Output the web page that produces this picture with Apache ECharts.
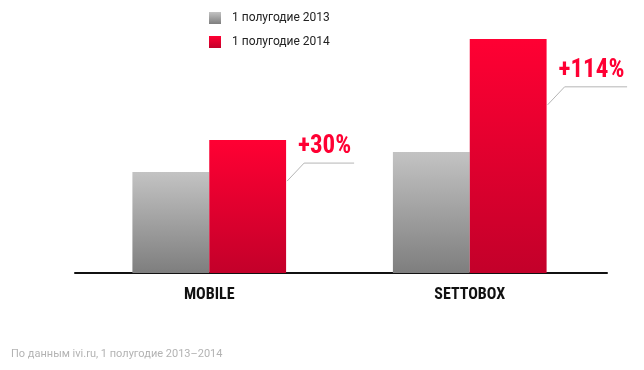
<!DOCTYPE html>
<html>
<head>
<meta charset="utf-8">
<script src="https://cdn.jsdelivr.net/npm/echarts@6/dist/echarts.min.js"></script>
<style>
html,body{margin:0;padding:0;background:#fff;}
#chart{width:644px;height:370px;}
</style>
</head>
<body>
<div id="chart"></div>
<script>
const categories = ['MOBILE', 'SETTOBOX'];
const seriesNames = ['1 полугодие 2013', '1 полугодие 2014'];
const values2013 = [101, 121];
const values2014 = [133, 234];
const growthLabels = ['+30%', '+114%'];
const footnote = 'По данным ivi.ru, 1 полугодие 2013–2014';

const condensed = '"Roboto Condensed", "Liberation Sans Narrow", "DejaVu Sans Condensed", sans-serif';
const catGap = 0.41;

const grayGrad = new echarts.graphic.LinearGradient(0, 0, 0, 1, [
  {offset: 0, color: '#c3c3c3'}, {offset: 1, color: '#7e7e7e'}
]);
const redGrad = new echarts.graphic.LinearGradient(0, 0, 0, 1, [
  {offset: 0, color: '#ff0033'}, {offset: 1, color: '#c3002a'}
]);

const chart = echarts.init(document.getElementById('chart'));
chart.setOption({
  animation: false,
  backgroundColor: '#ffffff',
  title: {
    text: footnote,
    left: 11, top: 349, padding: 0,
    textStyle: {fontFamily: 'Roboto', fontSize: 11, fontWeight: 'normal', color: '#b3b3b3'}
  },
  legend: {
    orient: 'vertical',
    left: 209, top: 12, padding: 0,
    itemWidth: 12, itemHeight: 12, itemGap: 12,
    icon: 'rect',
    data: seriesNames,
    textStyle: {fontFamily: 'Roboto', fontSize: 12, color: '#222', padding: [0, 0, 0, 6]}
  },
  grid: [
    {left: 79, right: 44, top: 23, bottom: 97},
    {left: 75, right: 37, top: 23, bottom: 97}
  ],
  xAxis: [
    {
      type: 'category', gridIndex: 0,
      data: categories,
      axisLine: {show: false},
      axisTick: {show: false},
      axisLabel: {
        margin: 14,
        fontFamily: condensed, fontWeight: 'bold', fontSize: 16, color: '#111'
      }
    },
    {
      type: 'category', gridIndex: 1,
      data: categories,
      axisLine: {lineStyle: {color: '#111', width: 2}},
      axisTick: {show: false},
      axisLabel: {show: false}
    }
  ],
  yAxis: [
    {type: 'value', gridIndex: 0, min: 0, max: 250, show: false, splitLine: {show: false}},
    {type: 'value', gridIndex: 1, min: 0, max: 250, show: false, splitLine: {show: false}}
  ],
  series: [
    {
      name: seriesNames[0], type: 'bar', data: values2013,
      barGap: 0, barCategoryGap: (catGap * 100) + '%',
      itemStyle: {color: grayGrad}
    },
    {
      name: seriesNames[1], type: 'bar', data: values2014,
      barGap: 0, barCategoryGap: (catGap * 100) + '%',
      itemStyle: {color: redGrad}
    },
    {
      type: 'custom',
      silent: true,
      data: values2014.map((v, i) => [i, v, growthLabels[i]]),
      renderItem: function (params, api) {
        const cat = api.value(0);
        const v = api.value(1);
        const label = growthLabels[cat];
        const top = api.coord([cat, v]);
        const base = api.coord([cat, 0]);
        const catW = api.size([1, 0])[0];
        const barW = catW * (1 - catGap) / 2;
        const rightX = top[0] + barW;
        const h = base[1] - top[1];
        const hY = top[1] + h * 0.245 - 9.5;
        const startX = rightX + 1;
        const kneeX = rightX + 18;
        const endX = kneeX + label.length * 12.5;
        return {
          type: 'group',
          children: [
            {
              type: 'polyline',
              shape: {points: [[startX, hY + 18], [kneeX, hY], [endX, hY]]},
              style: {stroke: '#b5b5b5', lineWidth: 1, fill: null}
            },
            {
              type: 'text',
              x: rightX + 12, y: hY - 4,
              style: {
                text: label,
                fill: '#ff0033',
                font: 'bold 25px ' + condensed,
                textAlign: 'left', textVerticalAlign: 'bottom'
              }
            }
          ]
        };
      }
    }
  ]
});
</script>
</body>
</html>
